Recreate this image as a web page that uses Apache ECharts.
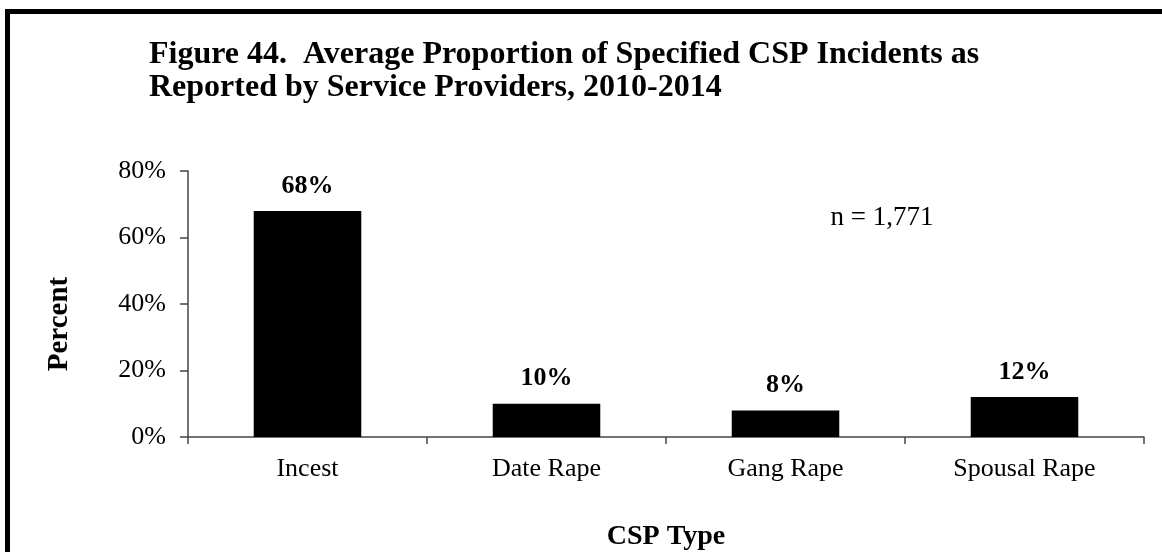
<!DOCTYPE html>
<html>
<head>
<meta charset="utf-8">
<script src="https://cdn.jsdelivr.net/npm/echarts@6/dist/echarts.min.js"></script>
<style>html,body{margin:0;padding:0;background:#fff;}#c{width:1162px;height:552px;}</style>
</head>
<body>
<div id="c"></div>
<script>
var categories = ['Incest', 'Date Rape', 'Gang Rape', 'Spousal Rape'];
var percentValues = [68, 10, 8, 12];
var yTicks = [0, 20, 40, 60, 80];
var titleText = 'Figure 44.  Average Proportion of Specified CSP Incidents as\nReported by Service Providers, 2010-2014';
var noteText = 'n = 1,771';

var serif = '"Liberation Serif", "Times New Roman", serif';
var chart = echarts.init(document.getElementById('c'));
chart.setOption({
  backgroundColor: '#fff',
  animation: false,
  title: {
    text: titleText,
    left: 144, top: 33,
    textStyle: { fontFamily: serif, fontWeight: 'bold', fontSize: 32, lineHeight: 33, color: '#000' }
  },
  graphic: [
    { type: 'rect', shape: { x: 7.5, y: 11.5, width: 1170, height: 560 }, style: { fill: 'none', stroke: '#000', lineWidth: 5 }, silent: true },
    { type: 'text', x: 60, y: 324, rotation: Math.PI / 2,
      style: { text: 'Percent', fontFamily: serif, fontWeight: 'bold', fontSize: 29, fill: '#000', align: 'center', verticalAlign: 'middle' } },
    { type: 'text', x: 882, y: 218,
      style: { text: noteText, fontFamily: serif, fontSize: 27, fill: '#000', align: 'center', verticalAlign: 'middle' } }
  ],
  grid: { left: 188, right: 18, top: 171, bottom: 115, containLabel: false },
  xAxis: {
    type: 'category',
    data: categories,
    name: 'CSP Type',
    nameLocation: 'middle',
    nameGap: 86,
    nameTextStyle: { fontFamily: serif, fontWeight: 'bold', fontSize: 28, color: '#000' },
    axisLine: { lineStyle: { color: '#444', width: 1.5 } },
    axisTick: { show: true, alignWithLabel: false, length: 7, lineStyle: { color: '#444', width: 1.5 } },
    axisLabel: { fontFamily: serif, fontSize: 26, color: '#000', margin: 19 }
  },
  yAxis: {
    type: 'value',
    min: yTicks[0], max: yTicks[yTicks.length - 1], interval: 20,
    axisLine: { show: true, lineStyle: { color: '#444', width: 1.5 } },
    axisTick: { show: true, length: 8, lineStyle: { color: '#444', width: 1.5 } },
    splitLine: { show: false },
    axisLabel: { fontFamily: serif, fontSize: 26, color: '#000', margin: 22, formatter: '{value}%' }
  },
  series: [{
    type: 'bar',
    data: percentValues,
    barWidth: '45%',
    itemStyle: { color: '#000' },
    label: {
      show: true, position: 'top', distance: 12,
      formatter: '{c}%',
      fontFamily: serif, fontWeight: 'bold', fontSize: 26, color: '#000'
    }
  }]
});
</script>
</body>
</html>
